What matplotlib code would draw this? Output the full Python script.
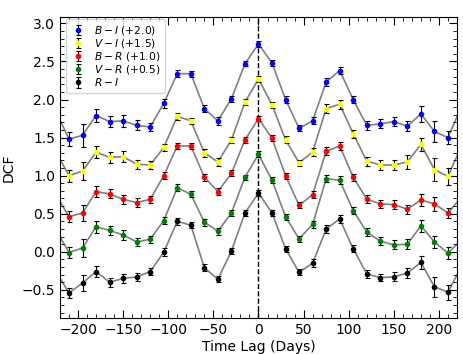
import numpy as np
import matplotlib
matplotlib.use("Agg")
import matplotlib.pyplot as plt
from matplotlib.ticker import MultipleLocator

lags = [-225, -210, -195, -180, -165, -150, -135, -120, -105, -90, -75, -60, -45, -30, -15, 0,
        15, 30, 45, 60, 75, 90, 105, 120, 135, 150, 165, 180, 195, 210, 225]

b_i = [1.85, 1.48, 1.53, 1.79, 1.71, 1.72, 1.66, 1.64, 1.95, 2.34, 2.34, 1.88, 1.72, 2.01, 2.47, 2.73,
       2.48, 2.00, 1.62, 1.72, 2.23, 2.38, 2.00, 1.66, 1.68, 1.71, 1.65, 1.81, 1.58, 1.50, 1.91]
v_i = [1.32, 1.00, 1.06, 1.31, 1.24, 1.25, 1.15, 1.14, 1.37, 1.78, 1.72, 1.30, 1.18, 1.47, 1.965, 2.27,
       1.93, 1.47, 1.17, 1.31, 1.88, 1.94, 1.55, 1.19, 1.14, 1.14, 1.18, 1.41, 1.08, 0.99, 1.39]
b_r = [0.76, 0.46, 0.51, 0.79, 0.76, 0.69, 0.645, 0.69, 1.00, 1.39, 1.39, 0.98, 0.79, 1.03, 1.47, 1.75,
       1.49, 1.00, 0.61, 0.75, 1.32, 1.39, 0.98, 0.69, 0.63, 0.62, 0.56, 0.68, 0.63, 0.51, 0.72]
v_r = [0.30, -0.01, 0.05, 0.33, 0.28, 0.22, 0.13, 0.165, 0.41, 0.84, 0.755, 0.39, 0.27, 0.51, 0.98, 1.28,
       0.94, 0.46, 0.17, 0.36, 0.96, 0.94, 0.54, 0.26, 0.14, 0.09, 0.10, 0.34, 0.13, -0.02, 0.16]
r_i = [-0.25, -0.54, -0.41, -0.26, -0.40, -0.35, -0.33, -0.26, -0.005, 0.40, 0.35, -0.21, -0.36, 0.01, 0.51, 0.77,
       0.51, 0.04, -0.27, -0.15, 0.30, 0.43, 0.04, -0.29, -0.34, -0.33, -0.28, -0.14, -0.46, -0.53, -0.19]

b_i_err = [0.08, 0.09, 0.15, 0.09, 0.07, 0.075, 0.065, 0.05, 0.055, 0.045, 0.04, 0.05, 0.05, 0.04, 0.035, 0.035,
           0.04, 0.045, 0.04, 0.045, 0.05, 0.05, 0.05, 0.06, 0.06, 0.06, 0.07, 0.1, 0.14, 0.09, 0.08]
v_i_err = [0.08, 0.08, 0.12, 0.08, 0.07, 0.07, 0.06, 0.05, 0.05, 0.045, 0.04, 0.05, 0.05, 0.04, 0.04, 0.04,
           0.04, 0.045, 0.04, 0.05, 0.06, 0.06, 0.05, 0.06, 0.06, 0.07, 0.09, 0.09, 0.15, 0.11, 0.08]
b_r_err = [0.07, 0.07, 0.10, 0.07, 0.06, 0.06, 0.055, 0.045, 0.05, 0.04, 0.04, 0.045, 0.045, 0.04, 0.035, 0.035,
           0.04, 0.04, 0.04, 0.045, 0.05, 0.05, 0.045, 0.05, 0.05, 0.06, 0.06, 0.08, 0.09, 0.06, 0.07]
v_r_err = [0.07, 0.07, 0.12, 0.08, 0.06, 0.06, 0.055, 0.045, 0.05, 0.045, 0.04, 0.045, 0.045, 0.04, 0.035, 0.04,
           0.04, 0.04, 0.04, 0.05, 0.05, 0.05, 0.045, 0.05, 0.05, 0.06, 0.07, 0.08, 0.08, 0.08, 0.07]
r_i_err = [0.07, 0.07, 0.10, 0.07, 0.06, 0.06, 0.055, 0.045, 0.05, 0.045, 0.04, 0.045, 0.04, 0.04, 0.035, 0.04,
           0.04, 0.04, 0.04, 0.05, 0.05, 0.05, 0.045, 0.05, 0.05, 0.06, 0.07, 0.09, 0.13, 0.10, 0.07]

labels = [r'$B-I$ (+2.0)', r'$V-I$ (+1.5)', r'$B-R$ (+1.0)', r'$V-R$ (+0.5)', r'$R-I$']
colors = ['blue', 'yellow', 'red', 'green', 'black']
series = [b_i, v_i, b_r, v_r, r_i]
errors = [b_i_err, v_i_err, b_r_err, v_r_err, r_i_err]

fig = plt.figure(figsize=(4.63, 3.54), dpi=100)
ax = fig.add_axes([0.1296, 0.1017, 0.8574, 0.8494])

for y, e, c, lab in zip(series, errors, colors, labels):
    ax.plot(lags, y, color='gray', lw=1.2, zorder=1)
    ax.errorbar(lags, y, yerr=e, fmt='o', color=c, mec=c, ms=3.0, ecolor='black',
                elinewidth=0.8, capsize=1.8, capthick=0.8, label=lab, zorder=3)

ax.axvline(0, color='black', ls='--', lw=1.0, zorder=2)

ax.set_xlim(-220, 220)
ax.set_ylim(-0.87, 3.08)
ax.xaxis.set_major_locator(MultipleLocator(50))
ax.xaxis.set_minor_locator(MultipleLocator(10))
ax.yaxis.set_major_locator(MultipleLocator(0.5))
ax.yaxis.set_minor_locator(MultipleLocator(0.1))
ax.tick_params(which='both', direction='in', top=True, right=True, labelsize=10)
ax.tick_params(which='major', length=6, width=0.8)
ax.tick_params(which='minor', length=3, width=0.6)

ax.set_xlabel('Time Lag (Days)', fontsize=10, labelpad=2)
ax.set_ylabel('DCF', fontsize=10)

ax.legend(loc='upper left', bbox_to_anchor=(0.015, 0.993), borderaxespad=0.0,
          fontsize=7.7, handletextpad=0.8, labelspacing=0.0, borderpad=0.45,
          handlelength=1.4)

fig.savefig('out.png', dpi=100)
